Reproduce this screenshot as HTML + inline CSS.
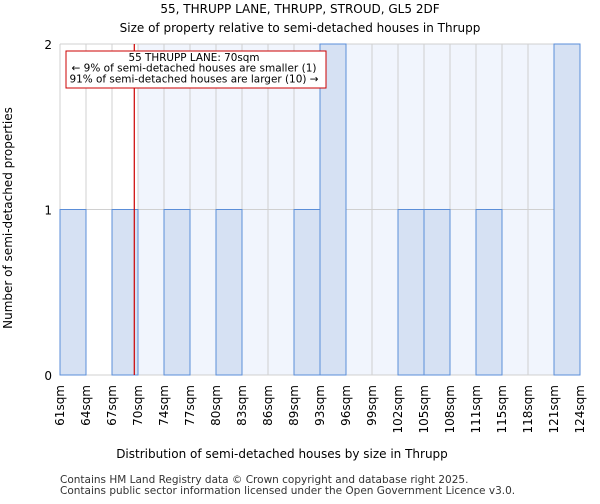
<!DOCTYPE html>
<html><head><meta charset="utf-8"><style>
body{margin:0;background:#fff;font-family:"DejaVu Sans","Liberation Sans",sans-serif}
</style></head><body>
<svg width="600" height="500" xmlns="http://www.w3.org/2000/svg" font-family="DejaVu Sans, Liberation Sans, sans-serif">
<text x="300" y="13" text-anchor="middle" font-size="12">55, THRUPP LANE, THRUPP, STROUD, GL5 2DF</text>
<text x="300" y="32" text-anchor="middle" font-size="12">Size of property relative to semi-detached houses in Thrupp</text>
<g id="plot"></g>
<text x="282" y="458" text-anchor="middle" font-size="12">Distribution of semi-detached houses by size in Thrupp</text>
<text transform="translate(12,218) rotate(-90)" text-anchor="middle" font-size="12">Number of semi-detached properties</text>
<text x="60" y="483" font-size="10.5" fill="#333">Contains HM Land Registry data © Crown copyright and database right 2025.</text>
<text x="60" y="494" font-size="10.5" fill="#333">Contains public sector information licensed under the Open Government Licence v3.0.</text>
</svg>
<script>
const labels=["61sqm","64sqm","67sqm","70sqm","74sqm","77sqm","80sqm","83sqm","86sqm","89sqm","93sqm","96sqm","99sqm","102sqm","105sqm","108sqm","111sqm","115sqm","118sqm","121sqm","124sqm"];
const counts=[1,0,1,0,1,0,1,0,0,1,2,0,0,1,1,0,1,0,0,2];
const yTicks=[0,1,2];
const subjectSize=70;
const x0=60,x1=580,yB=375,yT=44,n=counts.length,bw=(x1-x0)/n;
const X=i=>x0+i*bw, Y=v=>yB-(v/2)*(yB-yT);
const lo=61,hi=124;
const sx=s=>x0+(s-lo)/(hi-lo)*(x1-x0);
const ns="http://www.w3.org/2000/svg",g=document.getElementById('plot');
function mk(t,a){const e=document.createElementNS(ns,t);for(const k in a)e.setAttribute(k,a[k]);g.appendChild(e);return e;}
const rx=sx(subjectSize);
for(let i=0;i<n;i++){if(X(i)>=rx){const r=mk('rect',{x:X(i),y:yT,width:bw,height:yB-yT,fill:'#f1f5fd'});

}}
for(let i=0;i<=n;i++){mk('line',{x1:X(i),x2:X(i),y1:yT,y2:yB,stroke:'#d0d0d0','stroke-width':1});}
yTicks.forEach(v=>{mk('line',{x1:x0,x2:x1,y1:Y(v),y2:Y(v),stroke:'#d0d0d0'});
const t=mk('text',{x:x0-8,y:Y(v)+5,'text-anchor':'end','font-size':12});t.textContent=v;

});
counts.forEach((c,i)=>{if(c>0){const r=mk('rect',{x:X(i),y:Y(c),width:bw,height:yB-Y(c),fill:'#d6e1f3',stroke:'#5b8ed8','stroke-width':1});

}});
labels.forEach((l,i)=>{const t=mk('text',{transform:`translate(${X(i)+4},${yB+10}) rotate(-90)`,'text-anchor':'end','font-size':12});t.textContent=l;

});
const rl=mk('line',{x1:rx,x2:rx,y1:yT,y2:yB,stroke:'#cc0000','stroke-width':1.2});


const box=mk('rect',{x:66,y:51,width:260,height:37,fill:'#fff',stroke:'#cc0000'});


const annLines=["55 THRUPP LANE: 70sqm","← 9% of semi-detached houses are smaller (1)","91% of semi-detached houses are larger (10) →"];
const annW=[131,245,249];
annLines.forEach((s,k)=>{const t=mk('text',{x:194,y:61+k*10.7,'text-anchor':'middle','font-size':10.5,textLength:annW[k],lengthAdjust:'spacingAndGlyphs'});t.textContent=s;

});
</script>
</body></html>
